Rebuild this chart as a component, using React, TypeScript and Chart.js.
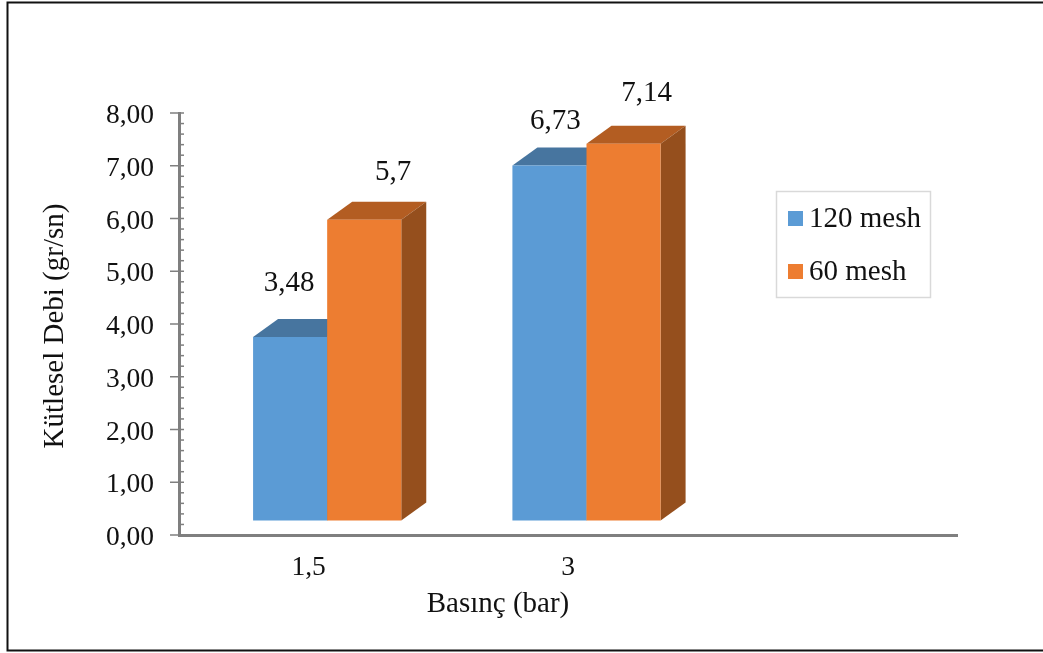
import React, { useEffect, useRef } from "react";
import { Chart, registerables } from "chart.js";

Chart.register(...registerables);

const categories = ["1,5", "3", ""];
const mesh120 = [3.48, 6.73, null];
const mesh60 = [5.7, 7.14, null];
const seriesNames = ["120 mesh", "60 mesh"];
const frontColors = ["#5B9BD5", "#ED7D31"];
const topColors = ["#47759F", "#B35D22"];
const sideColors = ["#3F6A92", "#954F1D"];

// Hand-placed data label offsets from the top centre of each bar front, per series
const labelOffsets = [
  [{ dx: -1, dy: -54 }, { dx: 6, dy: -44 }],
  [{ dx: 29, dy: -47 }, { dx: 23, dy: -50 }],
];

const SERIF = "'Liberation Serif', serif";
const TEXT = "#111111";
const AXIS = "#7F7F7F";
const TICK_FONT = 27.5;
const LABEL_FONT = 29;

// The oblique box: front faces sit up and to the right of the axis floor
const FRONT_SHIFT = { x: 18.5, y: -14.5 };
const DEPTH = { x: 25, y: -18 };

const fmt = (v: number) => String(v).replace(".", ",");

const box3d = {
  id: "box3d",
  // The built-in pass paints the last series first; series are painted below, left to right,
  // so each neighbour's front face covers the hidden side of the one before it.
  beforeDatasetDraw() {
    return false;
  },
  afterDatasetsDraw(chart: any) {
    const { ctx } = chart;
    ctx.save();
    ctx.translate(FRONT_SHIFT.x, FRONT_SHIFT.y);
    chart.data.datasets.forEach((ds: any, i: number) => {
      const meta = chart.getDatasetMeta(i);
      meta.data.forEach((bar: any, k: number) => {
        if (ds.data[k] == null) return;
        const l = bar.x - bar.width / 2;
        const r = bar.x + bar.width / 2;
        ctx.fillStyle = topColors[i];
        ctx.beginPath();
        ctx.moveTo(l, bar.y);
        ctx.lineTo(l + DEPTH.x, bar.y + DEPTH.y);
        ctx.lineTo(r + DEPTH.x, bar.y + DEPTH.y);
        ctx.lineTo(r, bar.y);
        ctx.closePath();
        ctx.fill();
        ctx.fillStyle = sideColors[i];
        ctx.beginPath();
        ctx.moveTo(r, bar.y);
        ctx.lineTo(r + DEPTH.x, bar.y + DEPTH.y);
        ctx.lineTo(r + DEPTH.x, bar.base + DEPTH.y);
        ctx.lineTo(r, bar.base);
        ctx.closePath();
        ctx.fill();
      });
      meta.controller.draw();
    });
    ctx.restore();

    ctx.save();
    ctx.font = `${LABEL_FONT}px ${SERIF}`;
    ctx.fillStyle = TEXT;
    ctx.textAlign = "center";
    ctx.textBaseline = "middle";
    chart.data.datasets.forEach((ds: any, d: number) => {
      chart.getDatasetMeta(d).data.forEach((bar: any, k: number) => {
        const v = ds.data[k];
        if (v == null) return;
        const off = labelOffsets[d][k];
        ctx.fillText(fmt(v), bar.x + FRONT_SHIFT.x + off.dx, bar.y + FRONT_SHIFT.y + off.dy);
      });
    });
    ctx.restore();
  },
};

// Tick marks on the value axis: long crossing marks on whole numbers, short inner ones between
const valueTicks = {
  id: "valueTicks",
  afterDraw(chart: any) {
    const { ctx } = chart;
    const y = chart.scales.y;
    const axisX = chart.chartArea.left;
    ctx.save();
    ctx.strokeStyle = AXIS;
    ctx.lineWidth = 1.5;
    y.ticks.forEach((t: any) => {
      const py = y.getPixelForValue(t.value);
      const major = Math.abs(t.value - Math.round(t.value)) < 1e-6;
      ctx.beginPath();
      ctx.moveTo(axisX + (major ? -9 : 0), py);
      ctx.lineTo(axisX + 5, py);
      ctx.stroke();
    });
    ctx.restore();
  },
};

// Outer frame, axis titles and the boxed legend
const decorations = {
  id: "decorations",
  afterDraw(chart: any) {
    const { ctx, width } = chart;
    ctx.save();

    ctx.strokeStyle = "#111111";
    ctx.lineWidth = 2;
    ctx.beginPath();
    ctx.moveTo(width, 2.5);
    ctx.lineTo(7.5, 2.5);
    ctx.lineTo(7.5, 650.5);
    ctx.lineTo(width, 650.5);
    ctx.stroke();

    ctx.fillStyle = TEXT;
    ctx.textBaseline = "middle";
    ctx.textAlign = "center";
    ctx.font = `29px ${SERIF}`;
    ctx.fillText("Basınç (bar)", 498, 604);
    ctx.save();
    ctx.translate(55, 326);
    ctx.rotate(-Math.PI / 2);
    ctx.font = `29px ${SERIF}`;
    ctx.fillText("Kütlesel Debi (gr/sn)", 0, 0);
    ctx.restore();

    ctx.strokeStyle = "#D9D9D9";
    ctx.lineWidth = 1.5;
    ctx.strokeRect(776.5, 191.5, 154, 106);
    ctx.font = `${LABEL_FONT}px ${SERIF}`;
    ctx.textAlign = "left";
    seriesNames.forEach((name, i) => {
      const cy = 218 + i * 53;
      ctx.fillStyle = frontColors[i];
      ctx.fillRect(788, cy - 7, 15, 15);
      ctx.fillStyle = TEXT;
      ctx.fillText(name, 809, cy + 1);
    });
    ctx.restore();
  },
};

export default function App() {
  const ref = useRef<HTMLCanvasElement>(null);
  useEffect(() => {
    const chart = new Chart(ref.current as HTMLCanvasElement, {
      type: "bar",
      data: {
        labels: categories,
        datasets: [
          { label: seriesNames[0], data: mesh120, backgroundColor: frontColors[0] },
          { label: seriesNames[1], data: mesh60, backgroundColor: frontColors[1] },
        ],
      },
      plugins: [box3d, valueTicks, decorations],
      options: {
        responsive: false,
        animation: false,
        layout: { autoPadding: false, padding: { top: 113, right: 86, left: 0, bottom: 0 } },
        plugins: { legend: { display: false }, tooltip: { enabled: false } },
        datasets: { bar: { categoryPercentage: 0.5714, barPercentage: 1 } },
        scales: {
          x: {
            afterFit: (s: any) => { s.height = 118; },
            grid: { display: false, drawTicks: false },
            border: { color: AXIS, width: 3 },
            ticks: { color: TEXT, font: { family: SERIF, size: TICK_FONT }, padding: 16, maxRotation: 0 },
          },
          y: {
            min: 0,
            max: 8,
            afterFit: (s: any) => { s.width = 179; },
            grid: { display: false, drawTicks: false },
            border: { color: AXIS, width: 3 },
            ticks: {
              stepSize: 0.2,
              autoSkip: false,
              color: TEXT,
              padding: 25,
              labelOffset: 3,
              font: { family: SERIF, size: TICK_FONT },
              callback: (v: any) => {
                const n = Number(v);
                return Math.abs(n - Math.round(n)) < 1e-6 ? n.toFixed(2).replace(".", ",") : "";
              },
            },
          },
        },
      },
    } as any);
    return () => chart.destroy();
  }, []);
  return (
    <div style={{ position: "absolute", left: 0, top: 0, width: 1043, height: 653, background: "#fff" }}>
      <canvas ref={ref} width={1043} height={653} style={{ display: "block" }} />
    </div>
  );
}
